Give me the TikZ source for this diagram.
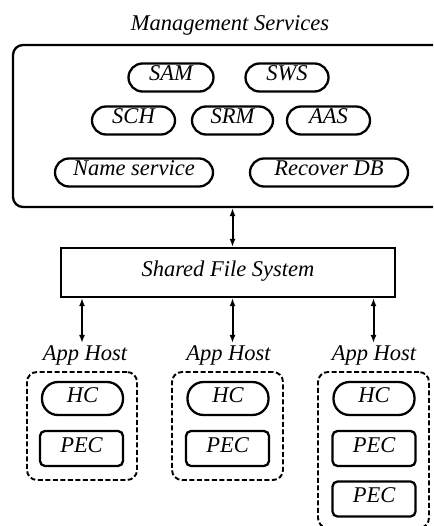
\documentclass[tikz,border=0pt]{standalone}
\usepackage{fontspec}
\setmainfont{Liberation Serif}
\usetikzlibrary{arrows.meta}
\tikzset{
  every node/.style={font=\fontsize{22.5}{26}\selectfont\itshape},
  pill/.style={draw, line width=2.3pt, rounded corners=14pt, minimum height=28pt,
    inner sep=0pt, text height=0.7em, text depth=0pt},
  hc/.style={pill, rounded corners=16pt, minimum height=33pt, minimum width=81pt},
  pec/.style={draw, line width=2.3pt, rounded corners=5pt, minimum height=35pt,
    minimum width=83pt, inner sep=0pt, text height=0.7em, text depth=0pt},
  hostbox/.style={draw, line width=1.9pt, dash pattern=on 5pt off 2.5pt,
    rounded corners=10pt, inner sep=0pt},
  hostlabel/.style={anchor=base, inner sep=2pt},
  dbl/.style={line width=2pt, {Latex[length=8pt,width=6pt]}-{Latex[length=8pt,width=6pt]}},
}
\begin{document}
\begin{tikzpicture}[x=1pt, y=-1pt]
\useasboundingbox (0,0) rectangle (433,526);
\clip (0,0) rectangle (433,526);

% management services block
\node[anchor=base] (title) at (230,31) {Management Services};
\node[draw, line width=2.3pt, rounded corners=10pt, minimum width=432pt,
  minimum height=162pt, inner sep=0pt] (mgmt) at (229,126) {};

\node[pill, minimum width=85pt] (sam) at (171,77.5) {SAM};
\node[pill, minimum width=83pt] (sws) at (287,77.5) {SWS};
\node[pill, minimum width=83pt] (sch) at (133.5,120.5) {SCH};
\node[pill, minimum width=81pt] (srm) at (232.5,120.5) {SRM};
\node[pill, minimum width=83pt] (aas) at (328.5,120.5) {AAS};
\node[pill, minimum width=158pt] (names) at (134,172.5) {Name service};
\node[pill, minimum width=158pt] (recdb) at (329,172.5) {Recover DB};

% shared file system
\node[draw, line width=2.3pt, minimum width=334pt, minimum height=49pt,
  inner sep=0pt, text height=0.7em, text depth=0pt] (sfs) at (228,272.5) {Shared File System};

% application hosts
\node[hostlabel] (lab1) at (85,360) {App Host};
\node[hostlabel] (lab2) at (228.5,360) {App Host};
\node[hostlabel] (lab3) at (374,360) {App Host};

\node[hostbox, minimum width=110pt, minimum height=108pt] (host1) at (82,426) {};
\node[hostbox, minimum width=111pt, minimum height=108pt] (host2) at (227.5,426) {};
\node[hostbox, minimum width=111pt, minimum height=156pt] (host3) at (373.5,450) {};

\node[hc] (hc1) at (82.5,398.5) {HC};
\node[hc] (hc2) at (228,398.5) {HC};
\node[hc] (hc3) at (374,398.5) {HC};
\node[pec] (pec1) at (81.5,448.5) {PEC};
\node[pec] (pec2) at (227.5,448.5) {PEC};
\node[pec] (pec3) at (374,448.5) {PEC};
\node[pec] (pec4) at (374,499) {PEC};

% connectors
\draw[dbl] (srm |- mgmt.south) -- (srm |- sfs.north);
\draw[dbl] (sfs.south -| host1) -- (host1 |- lab1.north);
\draw[dbl] (sfs.south -| srm) -- (srm |- lab2.north);
\draw[dbl] (sfs.south -| host3) -- (host3 |- lab3.north);
\end{tikzpicture}
\end{document}
